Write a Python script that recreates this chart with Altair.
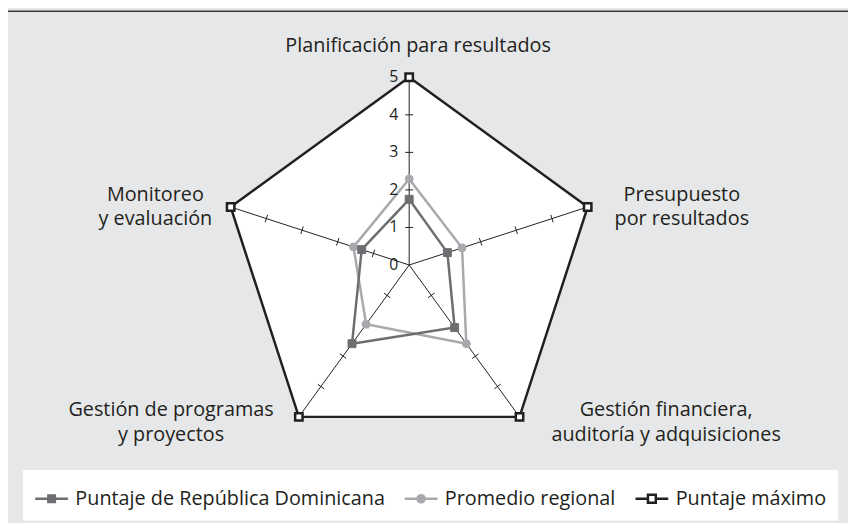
import math
import altair as alt
import pandas as pd

# ---------------- data ----------------
categories = [
    "Planificación para resultados",
    "Presupuesto por resultados",
    "Gestión financiera, auditoría y adquisiciones",
    "Gestión de programas y proyectos",
    "Monitoreo y evaluación",
]
category_labels = [
    "Planificación para resultados",
    "Presupuesto\npor resultados",
    "Gestión financiera,\nauditoría y adquisiciones",
    "Gestión de programas\ny proyectos",
    "Monitoreo\ny evaluación",
]
series_names = ["Puntaje de República Dominicana", "Promedio regional", "Puntaje máximo"]
dr_values = [1.75, 1.07, 2.06, 2.59, 1.33]
regional_values = [2.29, 1.48, 2.59, 1.95, 1.56]
max_values = [5, 5, 5, 5, 5]
axis_values = [0, 1, 2, 3, 4, 5]
tick_values = [1, 2, 3, 4]

# ---------------- style ----------------
FONT = "Open Sans"
TEXT = "#231f20"
BG = "#e6e7e8"
DR_COLOR = "#6d6e71"
REG_COLOR = "#a7a9ac"
MAX_COLOR = "#231f20"

W, H = 848, 515
PX = 37.9            # pixels per unit of score
CX, CY = 405, 257    # centre of the radar in chart pixels
n = len(categories)


def angle(i):
    return 2 * math.pi * i / n


def polar(r, i):
    a = angle(i)
    return r * math.sin(a), r * math.cos(a)


rows = []
for name, vals in zip(series_names, [dr_values, regional_values, max_values]):
    for k in range(n + 1):
        i = k % n
        x, y = polar(vals[i], i)
        rows.append({"series": name, "cat": categories[i], "idx": k, "x": x, "y": y, "v": vals[i]})
df = pd.DataFrame(rows)
df_pts = df[df["idx"] < n]

spokes = pd.DataFrame([
    {"x": 0.0, "y": 0.0, "x2": polar(max(axis_values), i)[0], "y2": polar(max(axis_values), i)[1]}
    for i in range(n)
])

half = 4.0 / PX
trows = []
for i in range(n):
    a = angle(i)
    px_, py_ = math.cos(a), -math.sin(a)
    for r in tick_values:
        cx, cy = polar(r, i)
        trows.append({"x": cx - half * px_, "y": cy - half * py_,
                      "x2": cx + half * px_, "y2": cy + half * py_})
ticks = pd.DataFrame(trows)

axis_df = pd.DataFrame({"x": [0.0] * len(axis_values), "y": [float(v) for v in axis_values],
                        "t": [str(v) for v in axis_values]})

label_df = pd.DataFrame([
    {"x": polar(max(axis_values), i)[0], "y": polar(max(axis_values), i)[1], "t": category_labels[i], "i": i}
    for i in range(n)
])

xs = alt.Scale(domain=[-CX / PX, (W - CX) / PX], nice=False, zero=False)
ys = alt.Scale(domain=[-(H - CY) / PX, CY / PX], nice=False, zero=False)
X = alt.X("x:Q", scale=xs, axis=None)
Y = alt.Y("y:Q", scale=ys, axis=None)

# legend symbols: line with marker in the middle
SYM_DR = "M-1,0L1,0M-0.2,-0.2L0.2,-0.2L0.2,0.2L-0.2,0.2Z"
SYM_REG = "M-1,0L1,0M0.22,0A0.22,0.22,0,1,1,-0.22,0A0.22,0.22,0,1,1,0.22,0"
SYM_MAX = "M-1,0L-0.24,0M0.24,0L1,0M-0.24,-0.24L0.24,-0.24L0.24,0.24L-0.24,0.24Z"

legend = alt.Legend(
    title=None, orient="none", legendX=15, legendY=464, direction="horizontal",
    labelFont=FONT, labelFontSize=20, labelColor=TEXT, labelOffset=6, labelLimit=500,
    columnPadding=14, symbolSize=1089, symbolStrokeWidth=2.5, symbolOpacity=1,
    padding=11, fillColor="white", strokeColor="white",
)

top_line = alt.Chart(pd.DataFrame({"a": [0]})).mark_rule(color="#3a3a3a", strokeWidth=1.5).encode(
    x=alt.value(0), x2=alt.value(W), y=alt.value(0.75)
)

max_poly = alt.Chart(df[df["series"] == "Puntaje máximo"]).mark_line(
    fill="white", stroke=MAX_COLOR, strokeWidth=2.5, strokeJoin="miter"
).encode(x=X, y=Y, order="idx:Q")

spoke_layer = alt.Chart(spokes).mark_rule(color=TEXT, strokeWidth=1).encode(
    x=X, y=Y, x2="x2:Q", y2="y2:Q"
)
tick_layer = alt.Chart(ticks).mark_rule(color=TEXT, strokeWidth=1).encode(
    x=X, y=Y, x2="x2:Q", y2="y2:Q"
)


def series_line(name, color):
    return alt.Chart(df[df["series"] == name]).mark_line(
        stroke=color, strokeWidth=2.5, strokeJoin="miter"
    ).encode(x=X, y=Y, order="idx:Q")


def series_points(name, shape, fill, stroke, size, sw):
    return alt.Chart(df_pts[df_pts["series"] == name]).mark_point(
        shape=shape, fill=fill, stroke=stroke, size=size, strokeWidth=sw, opacity=1, filled=True
    ).encode(x=X, y=Y)


legend_layer = alt.Chart(df_pts).mark_point(opacity=0, filled=True).encode(
    x=X, y=Y,
    stroke=alt.Stroke("series:N", scale=alt.Scale(domain=series_names, range=[DR_COLOR, REG_COLOR, MAX_COLOR]), legend=legend),
    fill=alt.Fill("series:N", scale=alt.Scale(domain=series_names, range=[DR_COLOR, REG_COLOR, "white"]), legend=legend),
    shape=alt.Shape("series:N", scale=alt.Scale(domain=series_names, range=[SYM_DR, SYM_REG, SYM_MAX]), legend=legend),
)

axis_labels = alt.Chart(axis_df).mark_text(
    align="right", baseline="middle", dx=-11, font=FONT, fontSize=16, color=TEXT
).encode(x=X, y=Y, text="t:N")

offsets = [(9, -31.5), (95, -12.5), (148, -6.5), (-129, -6.5), (-76, -12.5)]
cat_layers = []
for i, (dx, dy) in enumerate(offsets):
    cat_layers.append(
        alt.Chart(label_df[label_df["i"] == i]).mark_text(
            align="center", baseline="middle", dx=dx, dy=dy, font=FONT, fontSize=20,
            color=TEXT, lineBreak="\n", lineHeight=25
        ).encode(x=X, y=Y, text="t:N")
    )

chart = alt.layer(
    top_line, max_poly, spoke_layer, tick_layer,
    series_line("Promedio regional", REG_COLOR),
    series_line("Puntaje de República Dominicana", DR_COLOR),
    series_points("Promedio regional", "circle", REG_COLOR, REG_COLOR, 64, 1),
    series_points("Puntaje de República Dominicana", "square", DR_COLOR, DR_COLOR, 64, 1),
    series_points("Puntaje máximo", "square", "white", MAX_COLOR, 56, 2.5),
    legend_layer, axis_labels, *cat_layers
).properties(
    width=W, height=H, padding=0, autosize=alt.AutoSizeParams(type="none"), background=BG
).configure_view(stroke=None)

chart.save("out.html", embed_options={"renderer": "svg", "actions": False})
